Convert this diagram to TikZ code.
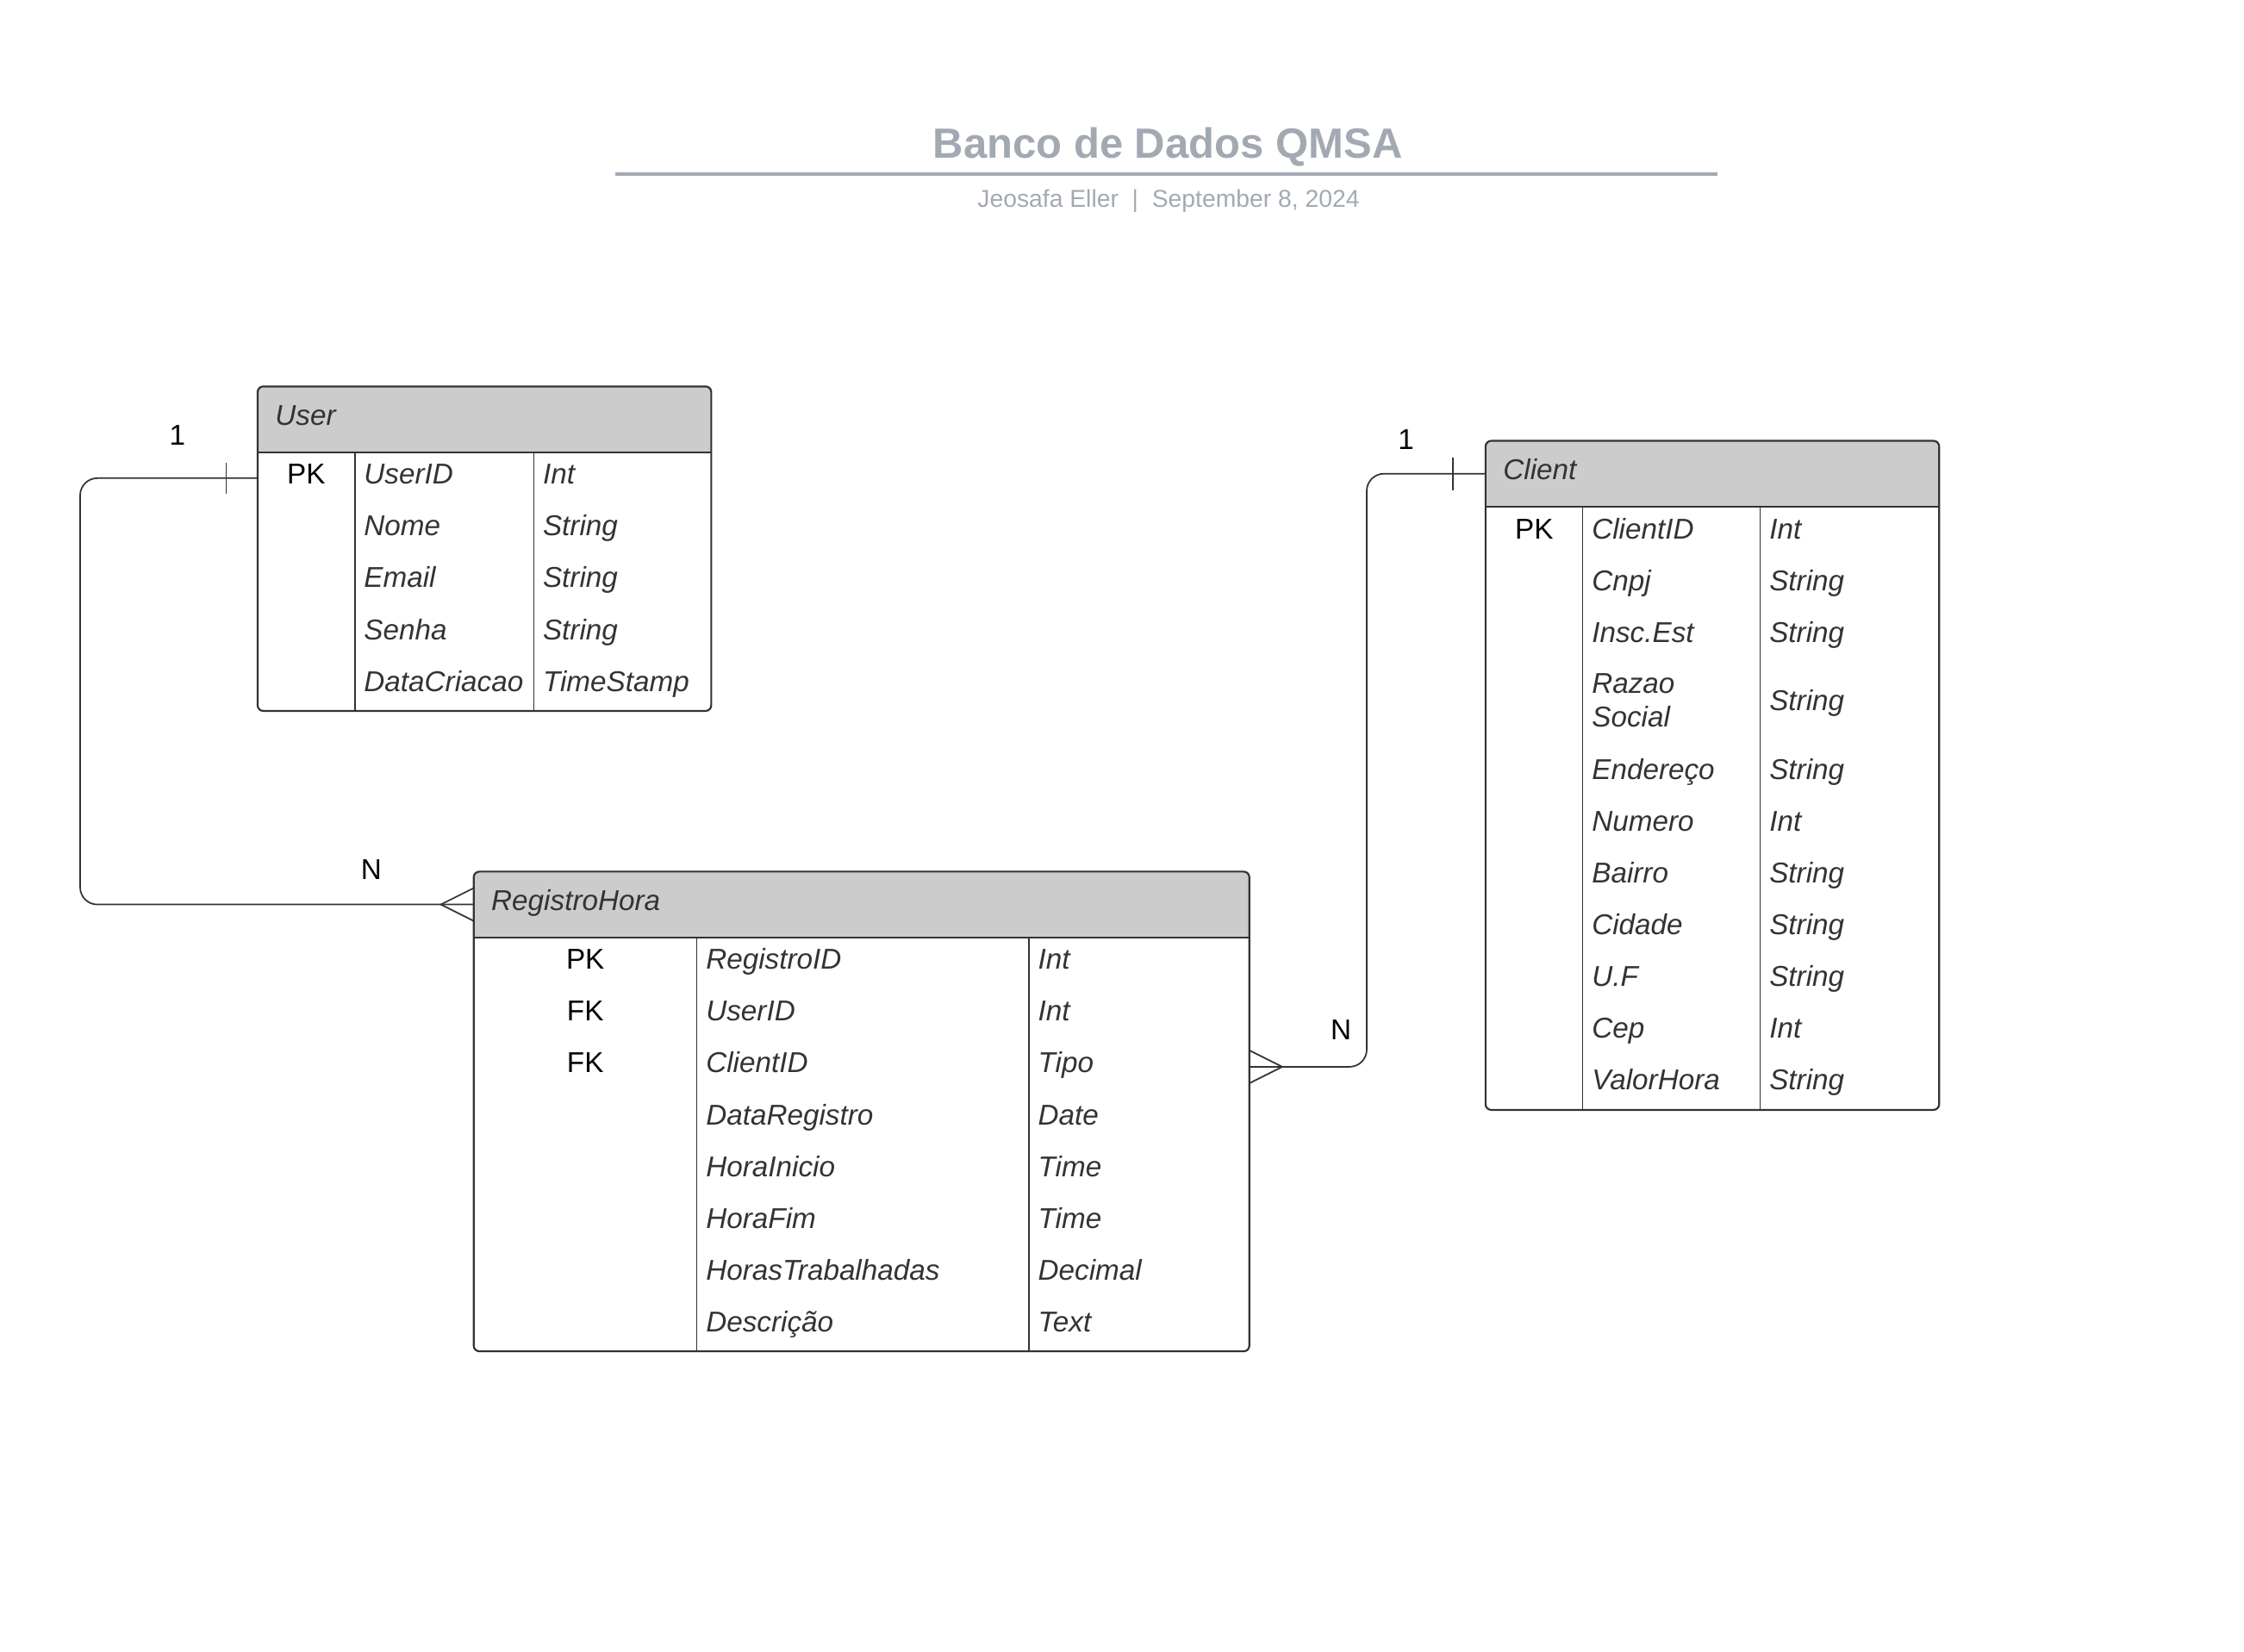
\documentclass[tikz,border=0pt]{standalone}
\usepackage{fontspec}
\setmainfont{Liberation Sans}
\definecolor{linegray}{HTML}{333333}
\definecolor{textgray}{HTML}{333333}
\definecolor{headgray}{HTML}{CCCCCC}
\definecolor{titlegray}{HTML}{A3A9B3}
\newcommand\erfont{\fontsize{11.4pt}{13.4pt}\selectfont}
\tikzset{
  tablebox/.style={draw=linegray, line width=0.75pt, rounded corners=0.08cm, inner sep=0pt, outer sep=0pt, anchor=north west},
  sepline/.style={draw=linegray, line width=0.75pt},
  colline/.style={draw=linegray, line width=0.45pt},
  fieldtext/.style={anchor=west, inner sep=0pt, text height=0.3cm, text depth=0.13cm, font=\erfont\itshape, text=textgray},
  keytext/.style={inner sep=0pt, text height=0.3cm, text depth=0.13cm, font=\erfont, text=black},
  relline/.style={draw=linegray, line width=0.6pt, rounded corners=0.24cm},
  markline/.style={draw=linegray, line width=0.6pt}
}
\begin{document}
\begin{tikzpicture}
  \useasboundingbox (0,0) rectangle (31.36,-23.08);
  %%%%%%%%%%%%%Title%%%%%%%%%%%%%%%%%%%%%%
  \node[inner sep=0pt, text height=0.42cm, text depth=0pt, text=titlegray, font=\fontsize{16.8pt}{20pt}\selectfont\bfseries] (title) at (16.32,-2.0) {Banco de Dados QMSA};
  \draw[titlegray, line width=1.4pt] (8.6,-2.43) -- (24.0,-2.43);
  \node[inner sep=0pt, text height=0.243cm, text depth=0pt, text=titlegray, font=\fontsize{9.7pt}{12pt}\selectfont] (subtitle) at (16.33,-2.77) {Jeosafa Eller~~|~~September 8, 2024};

  %%%%%%%%%%%%%User%%%%%%%%%%%%%%%%%%%%%%
  \begin{scope}
    \clip[rounded corners=0.08cm] (3.6,-5.4) rectangle (9.94,-9.935);
    \fill[headgray] (3.6,-5.4) rectangle (9.94,-6.32);
  \end{scope}
  \node[tablebox, minimum width=6.34cm, minimum height=4.535cm] (user) at (3.6,-5.4) {};
  \draw[sepline] (3.6,-6.32) -- (9.94,-6.32);
  \draw[colline] (4.96,-6.32) -- (4.96,-9.935);
  \draw[colline] (7.46,-6.32) -- (7.46,-9.935);

  \node[fieldtext] (userHead) at (3.84,-5.86) {User};
  \node[keytext] (userPK) at (4.28,-6.682) {PK};
  \node[fieldtext] (userID) at (5.08,-6.682) {UserID};
  \node[fieldtext] (userIDt) at (7.58,-6.682) {Int};
  \node[fieldtext] (userNome) at (5.08,-7.405) {Nome};
  \node[fieldtext] (userNomet) at (7.58,-7.405) {String};
  \node[fieldtext] (userEmail) at (5.08,-8.128) {Email};
  \node[fieldtext] (userEmailt) at (7.58,-8.128) {String};
  \node[fieldtext] (userSenha) at (5.08,-8.851) {Senha};
  \node[fieldtext] (userSenhat) at (7.58,-8.851) {String};
  \node[fieldtext] (userData) at (5.08,-9.574) {DataCriacao};
  \node[fieldtext] (userDatat) at (7.58,-9.574) {TimeStamp};

  %%%%%%%%%%%%%Client%%%%%%%%%%%%%%%%%%%%%%
  \begin{scope}
    \clip[rounded corners=0.08cm] (20.76,-6.16) rectangle (27.1,-15.51);
    \fill[headgray] (20.76,-6.16) rectangle (27.1,-7.08);
  \end{scope}
  \node[tablebox, minimum width=6.34cm, minimum height=9.35cm] (client) at (20.76,-6.16) {};
  \draw[sepline] (20.76,-7.08) -- (27.1,-7.08);
  \draw[colline] (22.12,-7.08) -- (22.12,-15.51);
  \draw[colline] (24.6,-7.08) -- (24.6,-15.51);

  \node[fieldtext] (clientHead) at (21.0,-6.62) {Client};
  \node[keytext] (clientPK) at (21.44,-7.442) {PK};
  \node[fieldtext] (clientID) at (22.24,-7.442) {ClientID};
  \node[fieldtext] (clientIDt) at (24.72,-7.442) {Int};
  \node[fieldtext] (clientCnpj) at (22.24,-8.165) {Cnpj};
  \node[fieldtext] (clientCnpjt) at (24.72,-8.165) {String};
  \node[fieldtext] (clientInsc) at (22.24,-8.888) {Insc.Est};
  \node[fieldtext] (clientInsct) at (24.72,-8.888) {String};
  \node[anchor=west, inner sep=0pt, align=left, font=\erfont\itshape, text=textgray] (clientRazao) at (22.24,-9.79) {Razao\\Social};
  \node[fieldtext] (clientRazaot) at (24.72,-9.849) {String};
  \node[fieldtext] (clientEnd) at (22.24,-10.811) {Endereço};
  \node[fieldtext] (clientEndt) at (24.72,-10.811) {String};
  \node[fieldtext] (clientNum) at (22.24,-11.534) {Numero};
  \node[fieldtext] (clientNumt) at (24.72,-11.534) {Int};
  \node[fieldtext] (clientBairro) at (22.24,-12.257) {Bairro};
  \node[fieldtext] (clientBairrot) at (24.72,-12.257) {String};
  \node[fieldtext] (clientCidade) at (22.24,-12.98) {Cidade};
  \node[fieldtext] (clientCidadet) at (24.72,-12.98) {String};
  \node[fieldtext] (clientUF) at (22.24,-13.703) {U.F};
  \node[fieldtext] (clientUFt) at (24.72,-13.703) {String};
  \node[fieldtext] (clientCep) at (22.24,-14.426) {Cep};
  \node[fieldtext] (clientCept) at (24.72,-14.426) {Int};
  \node[fieldtext] (clientValor) at (22.24,-15.149) {ValorHora};
  \node[fieldtext] (clientValort) at (24.72,-15.149) {String};

  %%%%%%%%%%%%%RegistroHora%%%%%%%%%%%%%%%%%%%%%%
  \begin{scope}
    \clip[rounded corners=0.08cm] (6.62,-12.18) rectangle (17.46,-18.884);
    \fill[headgray] (6.62,-12.18) rectangle (17.46,-13.1);
  \end{scope}
  \node[tablebox, minimum width=10.84cm, minimum height=6.704cm] (reg) at (6.62,-12.18) {};
  \draw[sepline] (6.62,-13.1) -- (17.46,-13.1);
  \draw[colline] (9.74,-13.1) -- (9.74,-18.884);
  \draw[colline] (14.38,-13.1) -- (14.38,-18.884);

  \node[fieldtext] (regHead) at (6.86,-12.64) {RegistroHora};
  \node[keytext] (regPK) at (8.18,-13.462) {PK};
  \node[fieldtext] (regID) at (9.86,-13.462) {RegistroID};
  \node[fieldtext] (regIDt) at (14.5,-13.462) {Int};
  \node[keytext] (regFK1) at (8.18,-14.185) {FK};
  \node[fieldtext] (regUser) at (9.86,-14.185) {UserID};
  \node[fieldtext] (regUsert) at (14.5,-14.185) {Int};
  \node[keytext] (regFK2) at (8.18,-14.908) {FK};
  \node[fieldtext] (regClient) at (9.86,-14.908) {ClientID};
  \node[fieldtext] (regClientt) at (14.5,-14.908) {Tipo};
  \node[fieldtext] (regData) at (9.86,-15.631) {DataRegistro};
  \node[fieldtext] (regDatat) at (14.5,-15.631) {Date};
  \node[fieldtext] (regInicio) at (9.86,-16.354) {HoraInicio};
  \node[fieldtext] (regIniciot) at (14.5,-16.354) {Time};
  \node[fieldtext] (regFim) at (9.86,-17.077) {HoraFim};
  \node[fieldtext] (regFimt) at (14.5,-17.077) {Time};
  \node[fieldtext] (regHoras) at (9.86,-17.8) {HorasTrabalhadas};
  \node[fieldtext] (regHorast) at (14.5,-17.8) {Decimal};
  \node[fieldtext] (regDesc) at (9.86,-18.523) {Descrição};
  \node[fieldtext] (regDesct) at (14.5,-18.523) {Text};

  %%%%%%%%%%%%%Relations%%%%%%%%%%%%%%%%%%%%%%
  \coordinate (userOut) at (user.west |- userPK);
  \coordinate (regIn) at (reg.west |- regHead);
  \coordinate (regOut) at (reg.east |- regFK2);
  \coordinate (clientIn) at (client.west |- clientHead);

  \draw[relline] (userOut) -- ++(-2.48,0) |- (regIn);
  \draw[markline] ([xshift=-0.44cm,yshift=0.22cm]userOut) -- ([xshift=-0.44cm,yshift=-0.22cm]userOut);
  \draw[markline] ([yshift=0.23cm]regIn) -- ([xshift=-0.46cm]regIn) -- ([yshift=-0.23cm]regIn);

  \draw[relline] (regOut) -- ++(1.64,0) |- (clientIn);
  \draw[markline] ([yshift=0.23cm]regOut) -- ([xshift=0.46cm]regOut) -- ([yshift=-0.23cm]regOut);
  \draw[markline] ([xshift=-0.46cm,yshift=0.23cm]clientIn) -- ([xshift=-0.46cm,yshift=-0.23cm]clientIn);

  \node[keytext] (userOne) at (2.48,-6.13) {1};
  \node[keytext] (userMany) at (5.19,-12.2) {N};
  \node[keytext] (clientOne) at (19.65,-6.2) {1};
  \node[keytext] (clientMany) at (18.74,-14.45) {N};
\end{tikzpicture}
\end{document}
